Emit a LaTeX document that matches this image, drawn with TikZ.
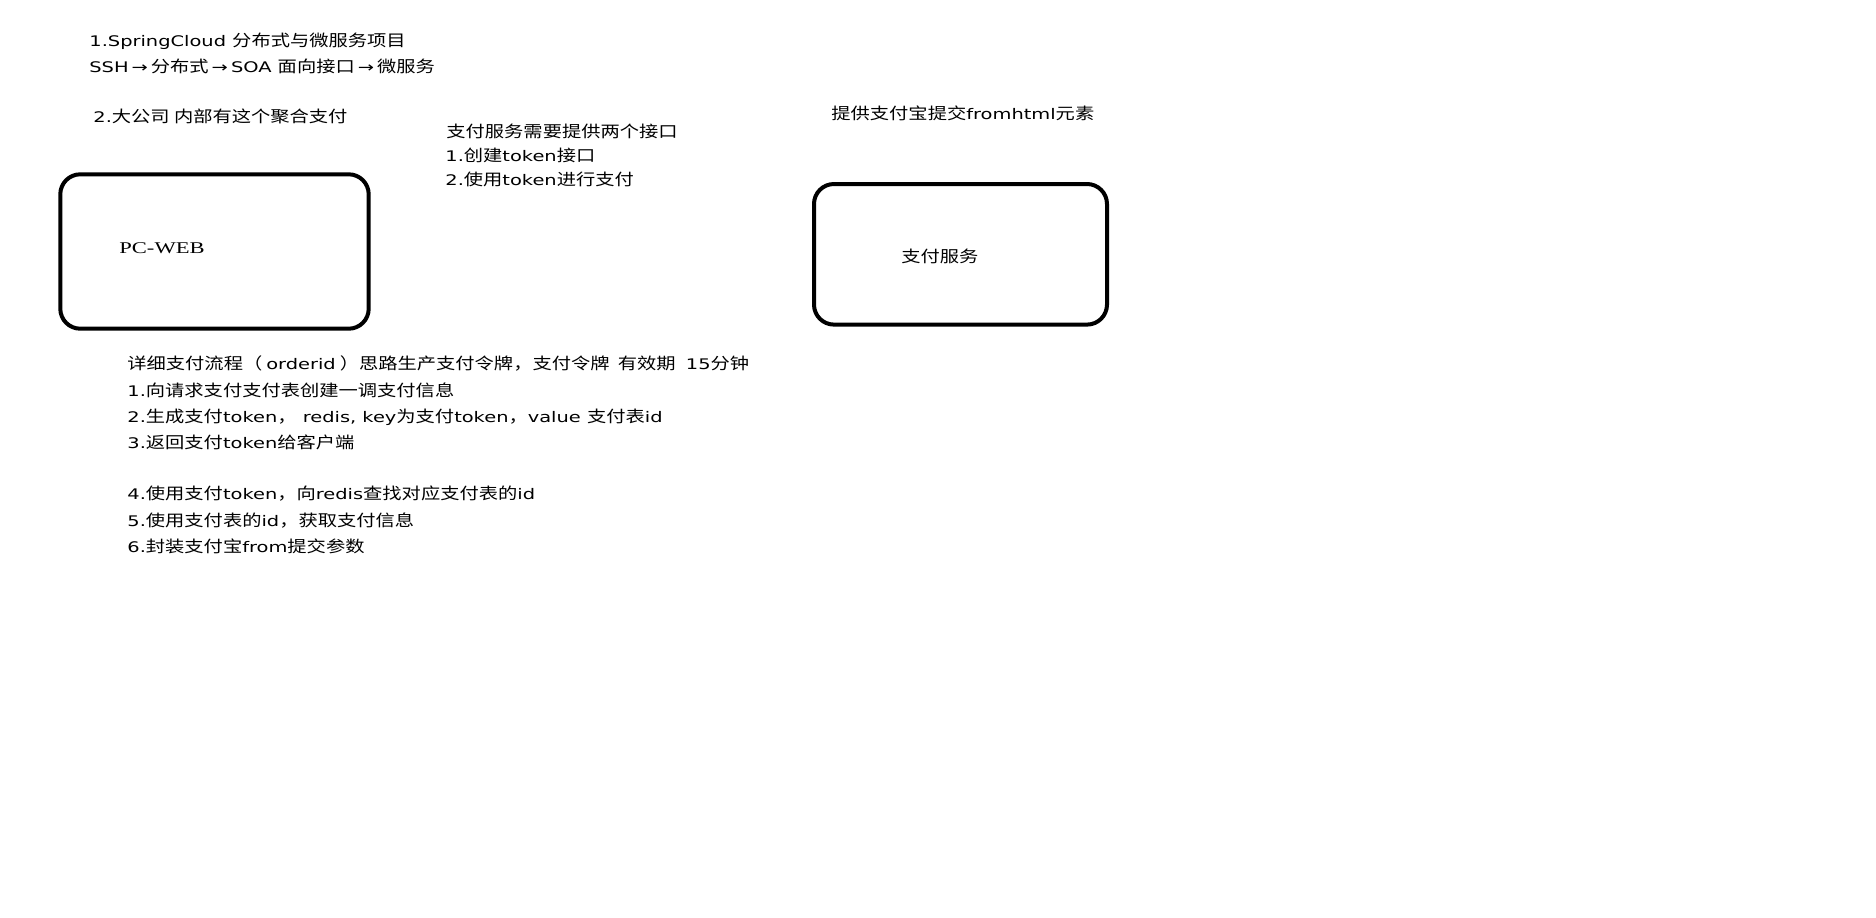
\documentclass[tikz,border=0pt]{standalone}
\usepackage{fontspec}
\setmainfont{DejaVu Sans}[FakeStretch=1.33]
\newfontfamily\cjk{Noto Sans CJK SC}[Scale=1.1, FakeStretch=1.2]
\newfontfamily\webfont{Liberation Serif}[Scale=1.12, FakeStretch=1.38]
\newcommand{\zh}[1]{{\cjk #1}}
\newcommand{\arr}{\kern1.5pt→\kern1.5pt}
\tikzset{
  note/.style={anchor=base west, inner sep=0pt},
  roundbox/.style={draw, line width=2pt, rounded corners=10pt, inner sep=0pt},
}

\begin{document}
\begin{tikzpicture}[x=0.5pt, y=-0.5pt, font=\fontsize{7.3}{9}\selectfont]
\useasboundingbox[fill=white] (0,0) rectangle (1876,917);

% Headings
\node[note] (title1) at (89,46)  {1.SpringCloud \zh{分布式与微服务项目}};
\node[note] (title2) at (89,72)  {SSH\arr\zh{分布式}\arr SOA \zh{面向接口}\arr\zh{微服务}};
\node[note] (bigco)  at (93,122) {2.\zh{大公司 内部有这个聚合支付}};

% Interfaces of the pay service
\node[note] (apiHead)  at (446,137) {\zh{支付服务需要提供两个接口}};
\node[note] (apiToken) at (445,161) {1.\zh{创建}token\zh{接口}};
\node[note] (apiPay)   at (445,185) {2.\zh{使用}token\zh{进行支付}};
\node[note] (alipayNote) at (831,119) {\zh{提供支付宝提交}fromhtml\zh{元素}};

% Boxes
\node[roundbox, minimum width=154.2pt, minimum height=77.2pt] (pcweb) at (214.5,251.5) {};
\node[note, font=\webfont\fontsize{7.3}{9}\selectfont] (pcwebLabel) at (119,253) {PC-WEB};

\node[roundbox, minimum width=146.5pt, minimum height=70.3pt] (payservice) at (960.5,254.3) {};
\node[note] (payserviceLabel) at (901,262) {\zh{支付服务}};

% Payment flow
\node[note] (flowHead) at (127,369) {\zh{详细支付流程（}\kern2pt orderid\kern2pt\zh{）思路生产支付令牌，支付令牌}\kern2pt\zh{ 有效期}\kern2pt{} 15\zh{分钟}};
\foreach \n/\y/\txt in {
  1/396/{1.\zh{向请求支付支付表创建一调支付信息}},
  2/422/{2.\zh{生成支付}token\zh{，} redis, key\zh{为支付}token\zh{，}value \zh{支付表}id},
  3/448/{3.\zh{返回支付}token\zh{给客户端}},
  4/499/{4.\zh{使用支付}token\zh{，向}redis\zh{查找对应支付表的}id},
  5/526/{5.\zh{使用支付表的}id\zh{，获取支付信息}},
  6/552/{6.\zh{封装支付宝}from\zh{提交参数}}} {
  \node[note] (step\n) at (127,\y) {\txt};
}
\end{tikzpicture}
\end{document}
